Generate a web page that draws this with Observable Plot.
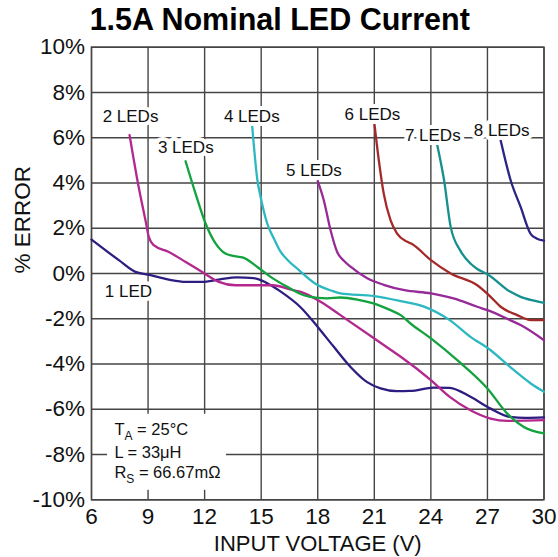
<!DOCTYPE html>
<html>
<head>
<meta charset="utf-8">
<script src="https://cdn.jsdelivr.net/npm/d3@7"></script>
<script src="https://cdn.jsdelivr.net/npm/@observablehq/plot@0.6"></script>
<style>
  html, body { margin: 0; padding: 0; background: #fff; }
  svg { display: block; }
</style>
</head>
<body>
<div id="chart"></div>
<script>
const title = "1.5A Nominal LED Current";
const xLabel = "INPUT VOLTAGE (V)";
const yLabel = "% ERROR";
const xTicks = [6, 9, 12, 15, 18, 21, 24, 27, 30];
const yTicks = [-10, -8, -6, -4, -2, 0, 2, 4, 6, 8, 10];

const seriesNames = ["1 LED", "2 LEDs", "3 LEDs", "4 LEDs", "5 LEDs", "6 LEDs", "7 LEDs", "8 LEDs"];
const seriesColors = ["#2d1d80", "#b3288e", "#12a23e", "#2bb8c1", "#962a96", "#a42a2a", "#16908f", "#2a2585"];

const volts1 = [6, 7.45, 8.33, 9, 10.1, 11, 11.87, 12.75, 13.7, 14.6, 15.3, 16.0, 17.1, 18.0, 18.85, 19.74, 20.6, 21.33, 22.2, 22.9, 24.15, 25.0, 26.1, 27.17, 28.2, 29.0, 30];
const err1   = [1.5, 0.59, 0.07, -0.05, -0.27, -0.37, -0.37, -0.27, -0.17, -0.2, -0.42, -0.78, -1.5, -2.36, -3.24, -4.13, -4.79, -5.08, -5.2, -5.19, -5.04, -5.05, -5.45, -5.97, -6.34, -6.38, -6.36];

const volts2 = [8.02, 8.5, 8.86, 9.04, 9.3, 10.1, 11, 11.87, 12.75, 13.64, 14.6, 15.6, 16.7, 17.1, 18.15, 19.2, 21.0, 21.9, 22.4, 24.0, 25.0, 26.1, 27.17, 28.05, 29, 30];
const err2   = [6.11, 3.83, 2.36, 1.62, 1.25, 0.95, 0.51, 0.07, -0.37, -0.52, -0.52, -0.52, -0.74, -0.81, -1.25, -1.84, -2.87, -3.39, -3.68, -4.71, -5.45, -6.04, -6.41, -6.51, -6.5, -6.48];

const volts3 = [10.99, 11.52, 12.05, 12.58, 13.1, 13.5, 14.05, 14.8, 15.5, 16.38, 17.26, 18.0, 18.5, 19.2, 20.1, 21.0, 21.86, 22.4, 22.92, 24.0, 25.4, 27.0, 28.05, 28.93, 30];
const err3   = [4.96, 3.53, 2.21, 1.33, 0.88, 0.78, 0.7, 0.29, -0.15, -0.59, -0.96, -1.08, -1.1, -1.06, -1.15, -1.33, -1.62, -1.84, -2.21, -2.87, -3.83, -5.08, -6.19, -6.78, -7.07];

const volts4 = [14.52, 14.8, 14.97, 15.32, 15.7, 16.0, 16.4, 17.0, 17.97, 18.7, 19.2, 21.0, 22.4, 23.6, 25.0, 26.1, 27.17, 28.2, 29.3, 30];
const err4   = [6.55, 4.12, 3.38, 2.21, 1.5, 1.0, 0.6, 0.15, -0.5, -0.75, -0.88, -1.0, -1.22, -1.45, -2.06, -2.8, -3.39, -4.13, -4.86, -5.23];

const volts5 = [18.0, 18.32, 18.68, 19.03, 19.4, 19.74, 20.6, 21.5, 22.6, 24.0, 25.2, 26.46, 27.0, 28.2, 28.76, 30];
const err5   = [4.08, 3.24, 1.91, 0.95, 0.55, 0.3, -0.2, -0.5, -0.74, -0.88, -1.1, -1.47, -1.62, -2.06, -2.28, -2.95];

const volts6 = [21.0, 21.24, 21.5, 21.86, 22.2, 22.75, 23.0, 24.0, 25.05, 26.46, 27.17, 27.7, 28.58, 29.3, 30];
const err6   = [6.66, 5.0, 3.53, 2.36, 1.77, 1.4, 1.3, 0.59, 0.0, -0.52, -1.03, -1.47, -1.84, -2.06, -2.06];

const volts7 = [24.34, 24.7, 25.05, 25.57, 26.1, 26.46, 27.0, 28.2, 28.76, 29.47, 30];
const err7   = [5.67, 4.12, 2.06, 1.0, 0.44, 0.2, -0.03, -0.8, -1.03, -1.2, -1.3];

const volts8 = [27.7, 28.23, 28.76, 29.29, 29.6, 30];
const err8   = [5.89, 4.12, 2.94, 1.75, 1.55, 1.45];

const labelVolts = [7.96, 8.07, 11.0, 14.5, 17.8, 20.9, 24.1, 27.75];
const labelErr   = [-0.78, 6.95, 5.58, 6.95, 4.56, 7.04, 6.11, 6.33];

const noteLines = [["T", "A", " = 25°C"], ["L", "", " = 33μH"], ["R", "S", " = 66.67mΩ"]];

const allVolts = [volts1, volts2, volts3, volts4, volts5, volts6, volts7, volts8];
const allErr = [err1, err2, err3, err4, err5, err6, err7, err8];

const lineData = allVolts.map((vs, i) => vs.map((v, j) => ({v, e: allErr[i][j], s: seriesNames[i]})));
const labelData = seriesNames.map((name, i) => ({name, v: labelVolts[i], e: labelErr[i]}));

const gridColor = "#454545";
const font = "'Liberation Sans', Arial, Helvetica, sans-serif";

// annotation text with subscripts, positioned through the scales
function noteMark(index, scales, values, dimensions) {
  const g = d3.create("svg:g");
  const x0 = scales.x(7.24);
  const baselines = [-7.18, -8.18, -9.06].map(scales.y);
  noteLines.forEach((parts, i) => {
    const t = g.append("text")
      .attr("x", x0).attr("y", baselines[i])
      .attr("text-anchor", "start")
      .attr("font-family", font).attr("font-size", 16.5).attr("fill", "#111");
    t.append("tspan").text(parts[0]);
    if (parts[1]) {
      t.append("tspan").attr("font-size", 12).attr("dy", 5).text(parts[1]);
      t.append("tspan").attr("dy", -5).text(parts[2]);
    } else {
      t.append("tspan").text(parts[2]);
    }
  });
  return g.node();
}

const chart = Plot.plot({
  width: 558,
  height: 557,
  marginLeft: 91,
  marginRight: 14.5,
  marginTop: 46.7,
  marginBottom: 57.7,
  style: {fontFamily: font, background: "#fff", color: "#111"},
  x: {domain: [6, 30]},
  y: {domain: [-10, 10]},
  marks: [
    Plot.gridX(xTicks, {stroke: gridColor, strokeOpacity: 1, strokeWidth: 1.4}),
    Plot.gridY(yTicks, {stroke: gridColor, strokeOpacity: 1, strokeWidth: 1.4}),
    Plot.rect([{x1: 6.85, x2: 13.16, y1: -6.22, y2: -9.58}], {x1: "x1", x2: "x2", y1: "y1", y2: "y2", fill: "white"}),
    Plot.frame({stroke: gridColor, strokeWidth: 1.4}),
    ...lineData.map((d, i) => Plot.line(d, {x: "v", y: "e", stroke: seriesColors[i], strokeWidth: 2.3, curve: "monotone-x"})),
    Plot.text(labelData, {x: "v", y: "e", text: "name", fontSize: 17, fill: "#111", stroke: "white", strokeWidth: 8}),
    noteMark,
    Plot.axisX(xTicks, {tickSize: 0, tickPadding: 8, fontSize: 22.5, label: null, fill: "#111"}),
    Plot.axisY(yTicks, {tickSize: 0, tickPadding: 6.5, fontSize: 22.5, label: null, fill: "#111", tickFormat: d => d + "%"}),
    Plot.text([xLabel], {frameAnchor: "bottom", lineAnchor: "middle", dy: 44, fontSize: 22, fill: "#111"}),
    Plot.text([yLabel], {frameAnchor: "left", dx: -69, rotate: -90, fontSize: 22.5, fill: "#111"}),
    Plot.text([title], {frameAnchor: "top", lineAnchor: "middle", dx: -38, dy: -27, fontSize: 30.5, fontWeight: "bold", fill: "#000"})
  ]
});
document.getElementById("chart").appendChild(chart);
</script>
</body>
</html>
